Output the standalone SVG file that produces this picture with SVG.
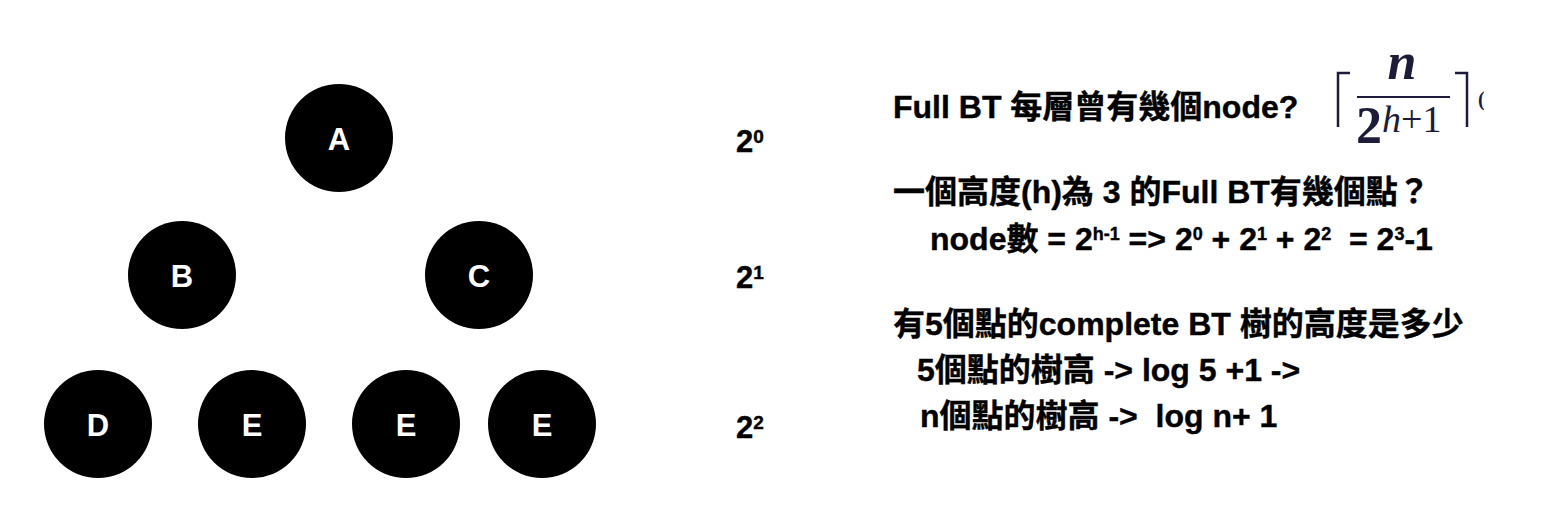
<svg xmlns="http://www.w3.org/2000/svg" width="1556" height="526" viewBox="0 0 1556 526">
<defs>
<style>
.node{fill:#000}
.nl{fill:#fff;font-family:"Liberation Sans",Arial,sans-serif;font-weight:bold;font-size:31px;text-anchor:middle}
.t{fill:#000;stroke:#000;stroke-width:0.4;font-family:"Liberation Sans","Noto Sans CJK TC",sans-serif;font-weight:bold;font-size:32px;white-space:pre}
.lv{fill:#000;stroke:#000;stroke-width:0.4;font-family:"Liberation Sans",sans-serif;font-weight:bold;font-size:31px}
.sup{font-size:18px}
.sup2{font-size:19px}
.m{fill:#1c1c3a;font-family:"Liberation Serif","DejaVu Serif",serif;font-weight:bold}
.br{fill:none;stroke:#1c1c3a;stroke-width:2.5}
</style>
<clipPath id="cp"><rect x="1470" y="80" width="14" height="30"/></clipPath>
</defs>
<rect width="1556" height="526" fill="#fff"/>
<g id="connectors"></g>
<g id="node-A"><circle class="node" cx="339" cy="138" r="54"/><text class="nl" x="339" y="150">A</text></g>
<g id="node-B"><circle class="node" cx="182" cy="275" r="54"/><text class="nl" x="182" y="287">B</text></g>
<g id="node-C"><circle class="node" cx="479" cy="275" r="54"/><text class="nl" x="479" y="287">C</text></g>
<g id="node-D"><circle class="node" cx="98" cy="424" r="54"/><text class="nl" x="98" y="436">D</text></g>
<g id="node-E1"><circle class="node" cx="252" cy="424" r="54"/><text class="nl" x="252" y="436">E</text></g>
<g id="node-E2"><circle class="node" cx="406" cy="424" r="54"/><text class="nl" x="406" y="436">E</text></g>
<g id="node-E3"><circle class="node" cx="542" cy="424" r="54"/><text class="nl" x="542" y="436">E</text></g>
<g id="levels">
<text class="lv" x="736" y="152">2<tspan class="sup2" dy="-9">0</tspan></text>
<text class="lv" x="736" y="288">2<tspan class="sup2" dy="-9">1</tspan></text>
<text class="lv" x="736" y="438">2<tspan class="sup2" dy="-9">2</tspan></text>
</g>
<g id="notes" xml:space="preserve">
<text class="t" x="893" y="118">Full BT 每層曾有幾個node?</text>
<text class="t" x="893" y="203">一個高度(h)為 3 的Full BT有幾個點？</text>
<text class="t" x="930" y="250">node數 = 2<tspan class="sup" dy="-10">h-1</tspan><tspan dy="10"> =&gt; 2</tspan><tspan class="sup" dy="-10">0</tspan><tspan dy="10"> + 2</tspan><tspan class="sup" dy="-10">1</tspan><tspan dy="10"> + 2</tspan><tspan class="sup" dy="-10">2</tspan><tspan dy="10">  = 2</tspan><tspan class="sup" dy="-10">3</tspan><tspan dy="10">-1</tspan></text>
<text class="t" x="893" y="335">有5個點的complete BT 樹的高度是多少</text>
<text class="t" x="917" y="381">5個點的樹高 -&gt; log 5 +1 -&gt;</text>
<text class="t" x="920" y="427">n個點的樹高 -&gt;  log n+ 1</text>
</g>
<g id="formula">
<polyline class="br" points="1350,73 1338,73 1338,127"/>
<polyline class="br" points="1455,73 1467,73 1467,127"/>
<text class="m" x="1402" y="79" font-size="52" font-style="italic" text-anchor="middle">n</text>
<line x1="1357" y1="97" x2="1450" y2="97" stroke="#1c1c3a" stroke-width="2"/>
<text class="m" x="1356" y="143" font-size="52">2<tspan font-size="38" font-weight="normal" dy="-11"><tspan font-style="italic">h</tspan>+1</tspan></text>
<text class="m" x="1478" y="106" font-size="20" font-weight="normal" clip-path="url(#cp)">(</text>
</g>
</svg>
